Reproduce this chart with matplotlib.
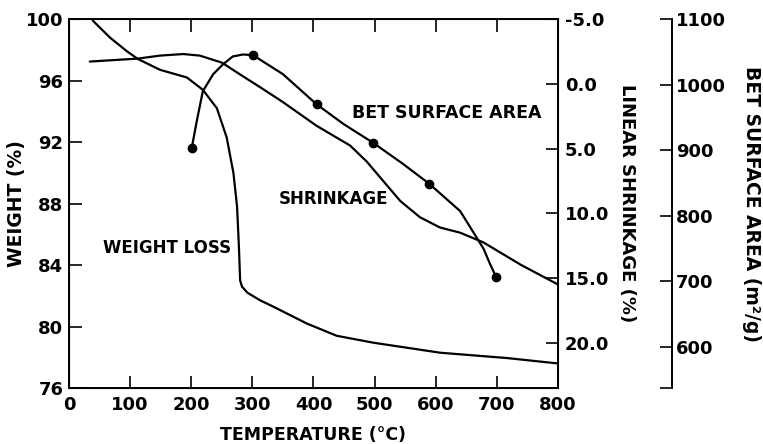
import matplotlib
matplotlib.use("Agg")
import matplotlib.pyplot as plt

plt.rcParams["font.family"] = "DejaVu Sans"
plt.rcParams["font.weight"] = "bold"

# weight loss curve (left axis)
temp_w = [39, 67, 95, 113, 149, 193, 219, 242, 258, 269, 275, 278, 280, 283, 292, 313, 334, 389, 438, 498, 607, 717, 800]
weight = [99.9, 98.8, 97.9, 97.4, 96.7, 96.2, 95.4, 94.2, 92.3, 90.0, 87.8, 85.2, 83.0, 82.6, 82.2, 81.7, 81.3, 80.2, 79.4, 78.95, 78.3, 77.95, 77.6]

# linear shrinkage curve (middle axis, inverted)
temp_s = [34, 113, 149, 187, 214, 250, 285, 313, 350, 405, 460, 487, 514, 542, 574, 607, 640, 678, 740, 800]
shrink = [-1.72, -1.95, -2.18, -2.3, -2.18, -1.64, -0.57, 0.27, 1.41, 3.24, 4.77, 6.0, 7.5, 9.05, 10.3, 11.1, 11.5, 12.25, 14.0, 15.5]

# BET surface area (far right axis)
temp_b = [201, 209, 219, 236, 252, 268, 285, 301, 350, 405, 449, 498, 545, 589, 640, 678, 689, 699]
bet = [904, 944, 990, 1016, 1031, 1043, 1046, 1045, 1016, 970, 940, 911, 880, 849, 807, 750, 726, 706]
temp_pts = [201, 301, 405, 498, 589, 699]
bet_pts = [904, 1045, 970, 911, 849, 706]

fig = plt.figure(figsize=(7.63, 4.44), dpi=100)
ax = fig.add_axes([0.0904, 0.126, 0.6409, 0.831])

lw = 1.6
style = dict(color="black", lw=lw, solid_joinstyle="round", solid_capstyle="round")
ax.plot(temp_w, weight, **style)
ax.set_xlim(0, 800)
ax.set_ylim(76, 100)
ax.set_xticks(range(0, 801, 100))
ax.set_yticks(range(76, 101, 4))
ax.tick_params(axis="both", direction="in", length=9, width=1.2, labelsize=13,
               top=True, pad=4)
ax.tick_params(axis="x", pad=6)
for s in ax.spines.values():
    s.set_linewidth(1.4)
ax.set_xlabel("TEMPERATURE (\u00b0C)", fontsize=12.5, fontweight="bold", labelpad=8)
ax.set_ylabel("WEIGHT (%)", fontsize=13.5, fontweight="bold", labelpad=0)

ax2 = ax.twinx()
ax2.plot(temp_s, shrink, **style)
ax2.set_ylim(23.5, -5)
ax2.set_yticks([-5, 0, 5, 10, 15, 20])
ax2.set_yticklabels(["-5.0", "0.0", "5.0", "10.0", "15.0", "20.0"])
ax2.tick_params(axis="y", direction="in", length=9, width=1.2, labelsize=13, pad=5)
ax2.set_ylabel("LINEAR SHRINKAGE (%)", fontsize=13, fontweight="bold",
               rotation=-90, labelpad=19)

ax3 = ax.twinx()
ax3.plot(temp_b, bet, **style)
ax3.plot(temp_pts, bet_pts, "o", color="black", ms=6)
ax3.set_ylim(537, 1100)
ax3.spines["right"].set_position(("axes", 1.233))
for k in ["left", "top", "bottom"]:
    ax3.spines[k].set_visible(False)
ax3.spines["right"].set_linewidth(1.4)
ax3.set_yticks([537, 600, 700, 800, 900, 1000, 1100])
ax3.set_yticklabels(["", "600", "700", "800", "900", "1000", "1100"])
ax3.tick_params(axis="y", direction="in", length=9, width=1.2, labelsize=13, pad=3)
ax3.set_ylabel("BET SURFACE AREA (m\u00b2/g)", fontsize=13.5, fontweight="bold",
               rotation=-90, labelpad=25)

ax.text(56, 84.8, "WEIGHT LOSS", fontsize=12, fontweight="bold")
ax.text(344, 88.0, "SHRINKAGE", fontsize=12, fontweight="bold")
ax.text(463, 93.55, "BET SURFACE AREA", fontsize=12.5, fontweight="bold")

fig.savefig("out.png", dpi=100)
